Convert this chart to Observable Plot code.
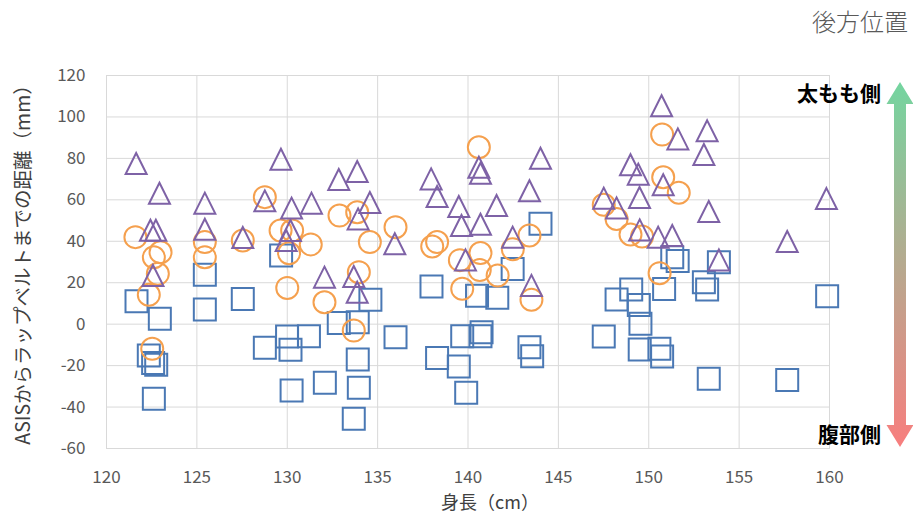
<!DOCTYPE html>
<html>
<head>
<meta charset="utf-8">
<script src="https://cdn.jsdelivr.net/npm/d3@7"></script>
<script src="https://cdn.jsdelivr.net/npm/@observablehq/plot@0.6"></script>
<style>
  html, body { margin: 0; padding: 0; background: #fff; }
  #chart { width: 913px; height: 519px; }
</style>
</head>
<body>
<div id="chart"></div>
<script>
// ---- data ----
const title = "後方位置";
const xLabel = "身長（cm）";
const yLabel = "ASISからラップベルトまでの距離（mm）";
const topLabel = "太もも側";
const bottomLabel = "腹部側";
const xTicks = [120, 125, 130, 135, 140, 145, 150, 155, 160];
const yTicks = [-60, -40, -20, 0, 20, 40, 60, 80, 100, 120];

// series 1: squares (blue)
const squareX = [121.66, 122.95, 122.34, 122.58, 122.75, 122.62, 125.44, 125.44, 127.54, 129.66,
  128.76, 129.99, 130.18, 130.24, 131.2, 132.08, 132.85, 133.9, 134.6, 133.9,
  133.96, 133.68, 135.99, 137.98, 138.29, 139.49, 139.9, 139.68, 140.75, 140.69,
  140.5, 141.62, 142.47, 144.01, 143.4, 143.55, 147.51, 148.22, 149.03, 149.45,
  149.54, 149.5, 150.59, 150.74, 150.85, 151.3, 151.6, 153.05, 153.23, 153.88,
  153.32, 157.66, 159.87];
const squareY = [11.1, 2.6, -15.1, -18.8, -19.6, -36, 23.8, 7.1, 12.2, 33.1,
  -11.4, -6, -12.4, -32, -5.8, -28.3, 0.6, 0.9, 11.8, -17.1,
  -30.7, -45.7, -6.3, 18.2, -16.3, -20.4, -33.1, -5.8, -3.9, -5.8,
  13.7, 12.8, 26.6, 48.4, -11.1, -15.5, -6, 11.9, 16.7, 9.3,
  0.2, -12.2, -11.9, -15.6, 17, 32.3, 30.5, 20.2, 16.7, 29.9,
  -26.4, -26.9, 13.5];

// series 2: circles (orange)
const circleX = [121.6, 122.99, 122.62, 122.84, 122.34, 122.53, 125.44, 125.44, 127.54, 128.76,
  129.63, 130.27, 130.1, 130.0, 131.3, 132.89, 133.87, 134.57, 135.99, 138.02,
  138.29, 132.06, 133.96, 133.68, 140.6, 139.55, 140.69, 140.65, 141.64, 139.68,
  142.48, 143.4, 143.51, 147.51, 148.22, 148.99, 149.63, 150.74, 150.8, 151.66,
  150.6];
const circleY = [42, 34.7, 32.3, 24.3, 14.2, -11.9, 39.6, 32.3, 40.4, 61.3,
  45.2, 45.2, 34.2, 17.5, 38.5, 52.4, 54, 39.6, 46.8, 37.5,
  39.6, 10.6, 25.1, -3.1, 85.4, 30.9, 34.3, 26.1, 23.5, 17.1,
  36.2, 42.8, 11.8, 57.6, 50.8, 43.3, 42.3, 91.5, 70.9, 63.4,
  24.6];

// series 3: triangles (purple)
const triX = [121.64, 122.93, 122.43, 122.73, 122.57, 125.44, 125.44, 127.54, 129.65, 128.76,
  130.24, 130.18, 129.94, 131.34, 132.85, 133.87, 134.57, 133.92, 135.95, 137.96,
  138.29, 139.49, 139.64, 140.6, 140.69, 140.69, 141.58, 139.86, 132.06, 133.68,
  133.87, 144.01, 143.4, 142.47, 143.51, 150.71, 151.61, 148.99, 149.42, 150.8,
  149.49, 147.51, 148.22, 149.5, 150.52, 151.3, 153.23, 153.05, 153.32, 159.83,
  157.66, 153.88];
const triY = [77.5, 63.2, 45.3, 45.3, 23.5, 58.4, 45.8, 41.8, 79.6, 59.5,
  56, 45.2, 40.4, 58.4, 69.8, 73.7, 58.7, 50.8, 38.8, 70.1,
  61.6, 56.8, 47.6, 75.7, 72.8, 48.2, 57.3, 31, 22.7, 23,
  15.4, 80.1, 64.4, 42, 18.7, 105.4, 89.4, 76.9, 72.4, 67.3,
  61.1, 60.8, 56.1, 45.5, 42, 42.8, 93.3, 81.9, 54.4, 60.6,
  39.9, 31];

// ---- build tables ----
const squares = squareX.map((x, i) => ({x, y: squareY[i]}));
const circles = circleX.map((x, i) => ({x, y: circleY[i]}));
const triangles = triX.map((x, i) => ({x, y: triY[i]}));

// custom symbols: box-centred square and isoceles triangle (Excel style)
const squareSym = {draw(ctx, size) { const r = Math.sqrt(size / Math.PI);
  ctx.moveTo(-r, -r); ctx.lineTo(r, -r); ctx.lineTo(r, r); ctx.lineTo(-r, r); ctx.closePath(); }};
const triSym = {draw(ctx, size) { const r = Math.sqrt(size / Math.PI);
  ctx.moveTo(0, -r); ctx.lineTo(r, r); ctx.lineTo(-r, r); ctx.closePath(); }};

const W = 913, H = 519;
const font = "'Noto Sans CJK JP', 'Noto Sans', sans-serif";

const chart = Plot.plot({
  width: W,
  height: H,
  marginLeft: 106,
  marginRight: 84,
  marginTop: 75,
  marginBottom: 71,
  style: {fontFamily: font, fontSize: "17px", color: "#595959", background: "#fff"},
  x: {domain: [120, 160], ticks: xTicks, tickSize: 0, tickPadding: 22, label: null, tickFormat: d => String(d)},
  y: {domain: [-60, 120], ticks: yTicks, tickSize: 0, tickPadding: 21, label: null, tickFormat: d => String(d)},
  marks: [
    Plot.gridX(xTicks, {stroke: "#d9d9d9", strokeOpacity: 1, strokeWidth: 1}),
    Plot.gridY(yTicks, {stroke: "#d9d9d9", strokeOpacity: 1, strokeWidth: 1}),
    Plot.frame({stroke: "#d9d9d9"}),
    Plot.dot(squares, {x: "x", y: "y", symbol: squareSym, r: 11, stroke: "#4a78b4", strokeWidth: 2, fill: "none"}),
    Plot.dot(circles, {x: "x", y: "y", symbol: "circle", r: 11, stroke: "#f5a04e", strokeWidth: 2, fill: "none"}),
    Plot.dot(triangles, {x: "x", y: "y", symbol: triSym, r: 10.5, stroke: "#7e62a6", strokeWidth: 2, fill: "none"})
  ]
});

document.getElementById("chart").appendChild(chart);

// ---- decorations added to the same SVG ----
const svg = d3.select(chart);
svg.style("overflow", "visible");

// title
svg.append("text").text(title)
  .attr("x", 908).attr("y", 23).attr("dy", "0.35em")
  .attr("text-anchor", "end")
  .attr("font-family", font).attr("font-size", 24).attr("font-weight", 300)
  .attr("fill", "#595959");

// axis titles
svg.append("text").text(yLabel)
  .attr("transform", "translate(23,260) rotate(-90)")
  .attr("text-anchor", "middle").attr("dy", "0.35em")
  .attr("font-family", font).attr("font-size", 19.5)
  .attr("fill", "#404040");
svg.append("text").text(xLabel)
  .attr("x", 490).attr("y", 503).attr("dy", "0.35em")
  .attr("text-anchor", "middle")
  .attr("font-family", font).attr("font-size", 18)
  .attr("fill", "#404040");

// gradient double arrow
const defs = svg.append("defs");
const grad = defs.append("linearGradient").attr("id", "arrowGrad")
  .attr("x1", 0).attr("y1", 0).attr("x2", 0).attr("y2", 1);
grad.append("stop").attr("offset", "0%").attr("stop-color", "#74d5a0");
grad.append("stop").attr("offset", "100%").attr("stop-color", "#f87e7e");

const arrX = 900, arrTop = 82, arrBot = 447, headH = 22, headW = 13.5, shaftW = 6;
const ap = d3.path();
ap.moveTo(arrX, arrTop);
ap.lineTo(arrX + headW, arrTop + headH);
ap.lineTo(arrX + shaftW, arrTop + headH);
ap.lineTo(arrX + shaftW, arrBot - headH);
ap.lineTo(arrX + headW, arrBot - headH);
ap.lineTo(arrX, arrBot);
ap.lineTo(arrX - headW, arrBot - headH);
ap.lineTo(arrX - shaftW, arrBot - headH);
ap.lineTo(arrX - shaftW, arrTop + headH);
ap.lineTo(arrX - headW, arrTop + headH);
ap.closePath();
svg.append("path").attr("d", ap.toString()).attr("fill", "url(#arrowGrad)");

svg.append("text").text(topLabel)
  .attr("x", 881).attr("y", 94).attr("dy", "0.35em")
  .attr("text-anchor", "end")
  .attr("font-family", font).attr("font-size", 21).attr("font-weight", 700)
  .attr("fill", "#000");
svg.append("text").text(bottomLabel)
  .attr("x", 881).attr("y", 435).attr("dy", "0.35em")
  .attr("text-anchor", "end")
  .attr("font-family", font).attr("font-size", 21).attr("font-weight", 700)
  .attr("fill", "#000");
</script>
</body>
</html>
